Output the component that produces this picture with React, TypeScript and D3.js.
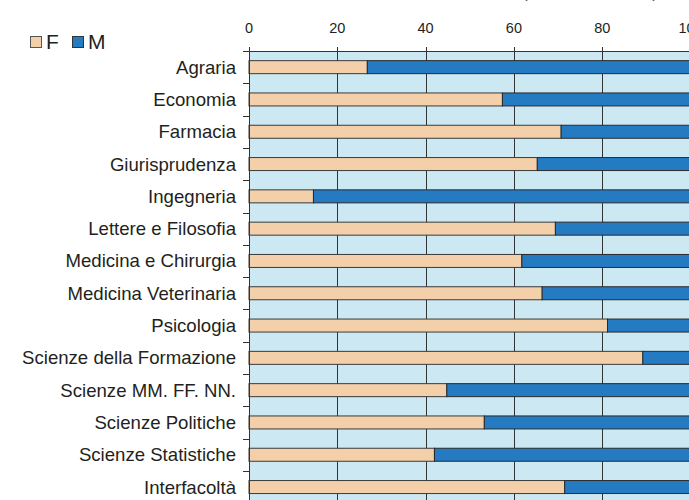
import React from "react";
import * as d3 from "d3";

const categories = [
  "Agraria",
  "Economia",
  "Farmacia",
  "Giurisprudenza",
  "Ingegneria",
  "Lettere e Filosofia",
  "Medicina e Chirurgia",
  "Medicina Veterinaria",
  "Psicologia",
  "Scienze della Formazione",
  "Scienze MM. FF. NN.",
  "Scienze Politiche",
  "Scienze Statistiche",
  "Interfacoltà",
];
const femalePct = [26.8, 57.4, 70.7, 65.3, 14.6, 69.4, 61.8, 66.4, 81.2, 89.2, 44.8, 53.3, 42.0, 71.5];
const malePct = femalePct.map((f) => 100 - f);
const xTicks = [0, 20, 40, 60, 80, 100];
const seriesNames = ["F", "M"];

const W = 689;
const H = 500;
const FONT = "'Liberation Sans', Arial, sans-serif";
const colF = "#F3CFAA";
const colM = "#247BC2";
const bg = "#CCE9F3";

export default function App() {
  const x = d3.scaleLinear().domain([0, 100]).range([249, 690.5]);
  const y = d3.scaleBand<string>().domain(categories).range([51, 51 + 32.3 * categories.length]).paddingInner(0).paddingOuter(0);
  const barH = 13;
  const plotTop = 51;
  const plotBottom = 51 + 32.3 * categories.length;
  return (
    <svg width={W} height={H} style={{ position: "absolute", left: 0, top: 0, display: "block" }} fontFamily={FONT}>
      <rect x={0} y={0} width={W} height={H} fill="#fff" />
      <text x={590} y={-2} textAnchor="middle" fontSize={17} fill="#555" textLength={136}>(F + M = 100)</text>
      {/* plot background */}
      <rect x={x(0)} y={plotTop} width={x(100) - x(0)} height={plotBottom - plotTop} fill={bg} />
      {/* vertical gridlines */}
      {xTicks.map((t) => (
        <line key={"g" + t} x1={Math.round(x(t)) + 0.5} x2={Math.round(x(t)) + 0.5} y1={plotTop - 4} y2={plotBottom} stroke="#333" strokeWidth={1} />
      ))}
      {/* bars */}
      {categories.map((c, i) => {
        const cy = (y(c) as number) + y.bandwidth() / 2;
        const y0 = cy - barH / 2;
        return (
          <g key={c}>
            <rect x={x(0)} y={y0} width={x(femalePct[i]) - x(0)} height={barH} fill={colF} stroke="#3a3a3a" strokeWidth={1} />
            <rect x={x(femalePct[i])} y={y0} width={x(femalePct[i] + malePct[i]) - x(femalePct[i])} height={barH} fill={colM} stroke="#2a2a2a" strokeWidth={1} />
            <text x={236} y={cy} dy="0.35em" textAnchor="end" fontSize={18.6} fill="#231f20">{c}</text>
          </g>
        );
      })}
      {/* top axis */}
      <line x1={x(0)} x2={x(100)} y1={plotTop + 0.5} y2={plotTop + 0.5} stroke="#333" strokeWidth={1} />
      {xTicks.map((t) => (
        <text key={"t" + t} x={x(t)} y={33} textAnchor="middle" fontSize={14.5} fill="#231f20">{t}</text>
      ))}
      {/* left axis */}
      <line x1={x(0) + 0.5} x2={x(0) + 0.5} y1={plotTop - 4} y2={plotBottom} stroke="#333" strokeWidth={1} />
      {categories.map((c) => (
        <line key={"yt" + c} x1={243} x2={249} y1={Math.round(y(c) as number) + 0.5} y2={Math.round(y(c) as number) + 0.5} stroke="#333" strokeWidth={1} />
      ))}
      <line x1={243} x2={249} y1={Math.round(plotBottom) + 0.5} y2={Math.round(plotBottom) + 0.5} stroke="#333" strokeWidth={1} />
      {/* legend */}
      <g>
        <rect x={30.5} y={36.5} width={11} height={11} fill={colF} stroke="#555" strokeWidth={1} />
        <text x={46} y={48.5} fontSize={21} fill="#231f20">{seriesNames[0]}</text>
        <rect x={72.5} y={36.5} width={11} height={11} fill={colM} stroke="#333" strokeWidth={1} />
        <text x={88} y={48.5} fontSize={21} fill="#231f20">{seriesNames[1]}</text>
      </g>
    </svg>
  );
}
